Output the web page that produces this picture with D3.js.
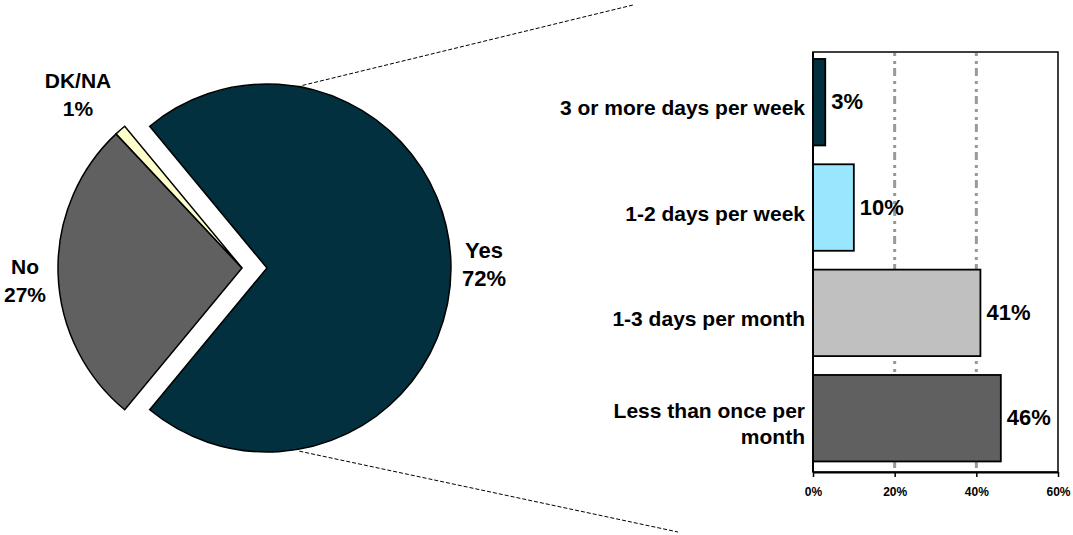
<!DOCTYPE html>
<html>
<head>
<meta charset="utf-8">
<script src="https://cdn.jsdelivr.net/npm/d3@7"></script>
<style>
  html, body { margin: 0; padding: 0; background: #ffffff; }
  svg { display: block; }
  text { font-family: "Liberation Sans", Arial, Helvetica, sans-serif; font-weight: bold; fill: #000; }
</style>
</head>
<body>
<svg id="chart" width="1073" height="535"></svg>
<script>
// Pie: share answering each option
const pieLabels = ["Yes", "No", "DK/NA"];
const pieValues = [72, 27, 1];
const pieColors = ["#03303f", "#606060", "#ffffcc"];

// Bars: frequency breakdown of the "Yes" answers
const barCategories = ["3 or more days per week", "1-2 days per week", "1-3 days per month", "Less than once per month"];
const barValues = [3, 10, 41, 46];
const barColors = ["#03303f", "#99e6ff", "#c0c0c0", "#606060"];

// Axis ticks
const tickValues = [0, 20, 40, 60];
const gridValues = [20, 40];

const svg = d3.select("#chart");

// ---------- pie ----------
const pieCx = 242, pieCy = 268, pieR = 184, explode = 25;
const total = d3.sum(pieValues);
// rotate so the first slice is centred on 3 o'clock
const start = Math.PI / 2 - (pieValues[0] / total) * Math.PI;
const pie = d3.pie().sort(null).startAngle(start).endAngle(start + 2 * Math.PI);
const arcs = pie(pieValues);
const arc = d3.arc().innerRadius(0).outerRadius(pieR);

function sliceOffset(d, i) {
  if (i !== 0) return [0, 0];
  const mid = (d.startAngle + d.endAngle) / 2;
  return [Math.sin(mid) * explode, -Math.cos(mid) * explode];
}

const pieG = svg.append("g").attr("transform", `translate(${pieCx},${pieCy})`);
pieG.selectAll("path.slice")
  .data(arcs)
  .join("path")
  .attr("class", "slice")
  .attr("transform", (d, i) => { const o = sliceOffset(d, i); return `translate(${o[0]},${o[1]})`; })
  .attr("d", arc)
  .attr("fill", (d, i) => pieColors[i])
  .attr("stroke", "#000")
  .attr("stroke-width", 1.5)
  .attr("stroke-linejoin", "miter");

// slice labels (name over percentage)
const pieLabelAt = { "Yes": [484, 265], "No": [25, 281], "DK/NA": [78, 94.5] };
const pieLabelSize = { "Yes": 22, "No": 21, "DK/NA": 21 };
pieLabels.forEach((name, i) => {
  const [lx, ly] = pieLabelAt[name];
  const t = svg.append("text")
    .attr("text-anchor", "middle")
    .style("font-size", pieLabelSize[name] + "px");
  t.append("tspan").attr("x", lx).attr("y", ly - 7).text(name);
  t.append("tspan").attr("x", lx).attr("y", ly + 21).text(pieValues[i] + "%");
});

// dashed leader lines from the exploded slice to the bar panel
const yesArc = arcs[0];
const yesOff = sliceOffset(yesArc, 0);
const onYesArc = a => [pieCx + yesOff[0] + Math.sin(a) * (pieR + 2), pieCy + yesOff[1] - Math.cos(a) * (pieR + 2)];
const leaders = [
  { from: onYesArc(11 * Math.PI / 180), to: [633, 5] },
  { from: onYesArc(170 * Math.PI / 180), to: [678, 532] }
];
svg.selectAll("line.leader")
  .data(leaders)
  .join("line")
  .attr("class", "leader")
  .attr("x1", d => d.from[0]).attr("y1", d => d.from[1])
  .attr("x2", d => d.to[0]).attr("y2", d => d.to[1])
  .attr("stroke", "#000")
  .attr("stroke-width", 1)
  .attr("stroke-dasharray", "4,2");

// ---------- bars ----------
const plotL = 813, plotR = 1058, plotT = 52, plotB = 472;
const x = d3.scaleLinear().domain([0, 60]).range([plotL, plotR]);
const y = d3.scaleBand().domain(barCategories).range([plotT, 468.4]).paddingInner(0.179).paddingOuter(0.066);

// plot frame (top and right)
svg.append("rect")
  .attr("x", plotL).attr("y", plotT)
  .attr("width", plotR - plotL).attr("height", plotB - plotT)
  .attr("fill", "none").attr("stroke", "#000").attr("stroke-width", 1.5);

// dash-dot gridlines
svg.selectAll("line.grid")
  .data(gridValues)
  .join("line")
  .attr("class", "grid")
  .attr("x1", d => x(d)).attr("x2", d => x(d))
  .attr("y1", plotT + 1).attr("y2", plotB)
  .attr("stroke", "#999999")
  .attr("stroke-width", 3)
  .attr("stroke-dasharray", "3,5,3,4,8,5");

svg.selectAll("rect.bar")
  .data(barValues)
  .join("rect")
  .attr("class", "bar")
  .attr("x", x(0))
  .attr("y", (d, i) => y(barCategories[i]))
  .attr("width", d => x(d) - x(0))
  .attr("height", y.bandwidth())
  .attr("fill", (d, i) => barColors[i])
  .attr("stroke", "#000")
  .attr("stroke-width", 1.8);

// value labels
svg.selectAll("text.val")
  .data(barValues)
  .join("text")
  .attr("class", "val")
  .attr("x", d => x(d) + 6)
  .attr("y", (d, i) => y(barCategories[i]) + y.bandwidth() / 2 + 7)
  .style("font-size", "22px")
  .text(d => d + "%");

// left axis line
svg.append("line")
  .attr("x1", plotL).attr("x2", plotL)
  .attr("y1", plotT).attr("y2", plotB)
  .attr("stroke", "#000").attr("stroke-width", 2);

// bottom axis
const xAxis = d3.axisBottom(x).tickValues(tickValues).tickFormat(d => d + "%").tickSize(5).tickSizeOuter(0);
const axG = svg.append("g").attr("transform", `translate(0,${plotB})`).call(xAxis);
axG.select(".domain").attr("stroke", "#000").attr("stroke-width", 2);
axG.selectAll(".tick line").attr("stroke", "#000").attr("stroke-width", 1.5);
axG.selectAll(".tick text")
  .attr("y", 24).attr("dy", 0)
  .attr("fill", "#000")
  .style("font-family", '"Liberation Sans", Arial, sans-serif')
  .style("font-weight", "bold")
  .style("font-size", "12px");

// category labels, wrapped to the space left of the axis
const catG = svg.append("g");
const maxW = 252, lineH = 26;
barCategories.forEach(cat => {
  const t = catG.append("text").attr("text-anchor", "end").style("font-size", "21px");
  const words = cat.split(" ");
  const lines = [];
  let cur = [];
  const probe = t.append("tspan");
  words.forEach(w => {
    const trial = cur.concat([w]).join(" ");
    probe.text(trial);
    if (probe.node().getComputedTextLength() > maxW && cur.length) {
      lines.push(cur.join(" "));
      cur = [w];
    } else {
      cur.push(w);
    }
  });
  lines.push(cur.join(" "));
  probe.remove();
  const cy = y(cat) + y.bandwidth() / 2;
  const first = cy + 13 - (lines.length - 1) * lineH / 2;
  lines.forEach((ln, k) => {
    t.append("tspan").attr("x", 805).attr("y", first + k * lineH).text(ln);
  });
});
</script>
</body>
</html>
